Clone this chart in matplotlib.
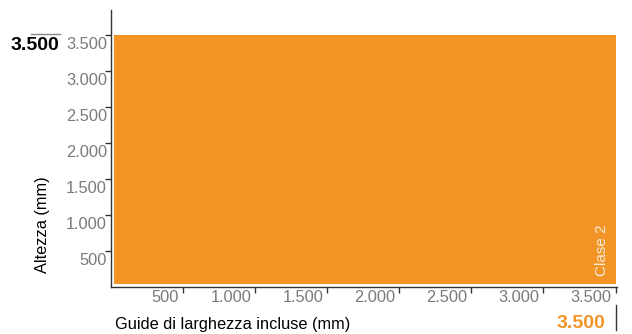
import matplotlib
matplotlib.use("Agg")
import matplotlib.pyplot as plt
from matplotlib.lines import Line2D
from matplotlib.transforms import ScaledTranslation

plt.rcParams["font.family"] = ["Liberation Sans", "DejaVu Sans"]

# =========================
# DATA
# =========================
classes = ["Clase 2"]
max_width_mm = [3500]
max_height_mm = [3500]

x_ticks = [500, 1000, 1500, 2000, 2500, 3000, 3500]
x_tick_labels = ["500", "1.000", "1.500", "2.000", "2.500", "3.000", "3.500"]
y_ticks = [500, 1000, 1500, 2000, 2500, 3000, 3500]
y_tick_labels = ["500", "1.000", "1.500", "2.000", "2.500", "3.000", "3.500"]

ORANGE = "#F29426"
GREY = "#7a7a7a"
AXIS = "#333333"

W, H = 632, 334
fig = plt.figure(figsize=(W / 100, H / 100), dpi=100)
ax = fig.add_axes([111 / W, 1 - 287 / H, (617 - 111) / W, (287 - 10) / H])

# =========================
# BAR
# =========================
ax.bar(0, max_height_mm[0], width=max_width_mm[0], align="edge",
       color=ORANGE, linewidth=0, zorder=1)
# white gap between the bar and the axes
ax.axvline(0, color="white", linewidth=4.3, zorder=1.5)
ax.axhline(0, color="white", linewidth=4.3, zorder=1.5)

ax.annotate(classes[0], xy=(max_width_mm[0], 0), xytext=(-5, 8),
            textcoords="offset points", rotation=90, ha="right", va="bottom",
            color="#f8ecdc", fontsize=11)

ax.set_xlim(0, 3510)
ax.set_ylim(0, 3850)

# =========================
# AXES STYLE
# =========================
for side in ["top", "right"]:
    ax.spines[side].set_visible(False)
for side in ["left", "bottom"]:
    ax.spines[side].set_color(AXIS)
    ax.spines[side].set_linewidth(1)
    ax.spines[side].set_zorder(3)

ax.set_xticks(x_ticks, x_tick_labels)
ax.set_yticks(y_ticks, y_tick_labels)
ax.tick_params(axis="both", direction="out", length=4.3, width=1, color=AXIS,
               labelcolor=GREY, labelsize=11.8)
ax.tick_params(axis="x", pad=-2.2)
ax.tick_params(axis="y", pad=-1.4)

for lab in ax.get_xticklabels():
    lab.set_horizontalalignment("right")
    lab.set_verticalalignment("top")
    lab.set_transform(lab.get_transform() + ScaledTranslation(-4 / 100, 0, fig.dpi_scale_trans))
for lab in ax.get_yticklabels():
    lab.set_verticalalignment("top")
    lab.set_transform(lab.get_transform() + ScaledTranslation(0, -2 / 100, fig.dpi_scale_trans))

# =========================
# LABELS
# =========================
fig.text(43 / W, 1 - 225 / H, "Altezza (mm)", rotation=90, ha="center",
         va="center", fontsize=11.8, color="black")
fig.text(115 / W, 1 - 325 / H, "Guide di larghezza incluse (mm)", ha="left",
         va="center", fontsize=11.8, color="black")

# max height marker
fig.text(59 / W, 1 - 46 / H, "3.500", ha="right", va="center",
         fontsize=14, fontweight="bold", color="black")
fig.add_artist(Line2D([31 / W, 60 / W], [1 - 34 / H, 1 - 34 / H],
                      color="#888888", linewidth=1))

# max width marker
fig.text(605 / W, 1 - 324 / H, "3.500", ha="right", va="center",
         fontsize=14, fontweight="bold", color=ORANGE)
fig.add_artist(Line2D([616 / W, 616 / W], [1 - 305 / H, 1 - 330 / H],
                      color=AXIS, linewidth=1))

fig.savefig("out.png", dpi=100)
